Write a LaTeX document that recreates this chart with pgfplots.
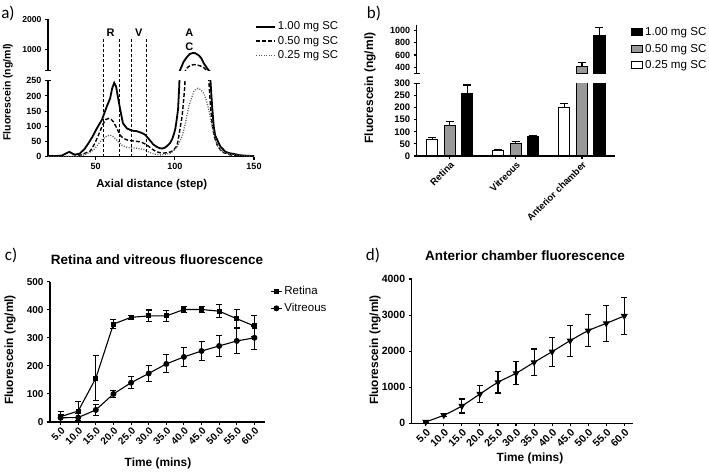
\documentclass[border=0pt]{standalone}
\usepackage{fontspec}
\setmainfont{Liberation Sans}
\newfontfamily\carlito{Carlito}
\usepackage{pgfplots}
\pgfplotsset{compat=1.18}

\newcommand{\fs}[1]{\fontsize{#1}{#1}\selectfont}
\newcommand{\panfont}{\fontsize{17}{19}\selectfont\carlito}

% GraphPad-like look
\pgfplotsset{
  gp/.style={
    scale only axis,
    axis x line*=bottom, axis y line*=left,
    tick align=outside,
    major tick length=3pt,
    axis line style={line width=1.1pt},
    every tick/.style={black, line width=1.1pt},
    /pgf/number format/assume math mode=true,
    /pgf/number format/1000 sep={},
    scaled y ticks=false,
    enlargelimits=false,
    anchor=south west,
  },
  errs/.style={
    error bars/y dir=both, error bars/y explicit,
    error bars/error bar style={line width=1.1pt, black},
    error bars/error mark options={rotate=90, mark size=3pt, line width=1.1pt, black},
  },
  barerr/.style={
    error bars/y dir=plus, error bars/y explicit,
    error bars/error bar style={line width=1.1pt, black},
    error bars/error mark options={rotate=90, mark size=4pt, line width=1.1pt, black},
  },
  bars/.style={ybar, bar width=11pt, bar shift=0pt, draw=black, line width=1.1pt, barerr},
}

% panel a curves
\pgfplotstableread{
x y
20 2
25 2
29 4
31 10
33.5 16
35.5 10
37 7
40 10
43 25
45.5 44
48 65
50.8 93
54 121
57.1 165
59.2 192
60.5 225
61.8 243
63 230
64 200
65.6 154
67.3 110
69.8 93
72 88
74 85
76 84
78.2 80
80 76
81.4 72
83 62
84.6 52
86.5 40
88.8 32
90.5 28
92 27
93.5 29
95.1 35
97 45
98.3 57
99.5 75
100.4 93
101.3 125
102.1 157
102.8 230
103.3 300
104.5 450
105.6 587
107.5 730
109.4 843
111.5 880
113 868
115.1 800
116.8 700
118.3 533
120 400
121.5 290
122.5 252
123.6 164
124.6 99
125.5 70
126.8 55
128.9 33
132 16
135 11
137.3 9
141 5
145.8 3
150 2
}\hi
\pgfplotstableread{
x y
20 0
35 0.5
38 2
41 6
44.5 14
46.6 18
49.7 45
51.8 71
55 110
56.5 122
58.2 126
60 122
61.3 115
63 98
64.5 82
66 68
67.7 60
70 55
71.9 53
75 51
78.2 49
80.5 44
82.5 38
84.5 30
86.6 22
88.5 16
90.9 13
93 12
95.1 13
97.5 16
99.3 22
100.5 30
101.5 38
102.5 66
103.5 98
104.6 132
105.5 180
106.3 230
106.8 300
107.8 380
108.8 425
110 462
112 490
114 478
116.2 445
118 400
119.4 333
120.8 290
121.5 250
122.5 170
123.5 110
125 65
127 35
130 15
135 6
140 3
150 1
}\mid
\pgfplotstableread{
x y
20 0
38 0
42.3 5
45.5 12
48.7 22
50.8 35
52.9 49
55 60
57.1 68
59.2 71
60.8 67
62.4 60
64.5 48
66.6 38
68.7 33
70.8 30
73.5 29
76.1 28
78.2 26
80.3 24
82.5 18
84.6 13
87.5 8
90.9 6
94 7
97.2 11
99.3 20
101.5 33
103 48
104.6 66
105.7 88
106.7 110
107.8 138
108.8 164
110.5 192
112 214
113.4 222
114.7 225
116.5 220
118.3 208
120 185
121.5 154
122.5 125
123.6 99
124.7 75
125.7 55
127.3 35
128.9 22
132 13
135.2 8
140 5
146 3
150 2
}\lo

\begin{document}
\begin{tikzpicture}
\path[use as bounding box] (0,0) rectangle (709pt,-471pt);

% ---------------- a) lower
\begin{axis}[gp, name=al, at={(48pt,-156.7pt)}, width=206pt, height=76pt,
  tick label style={font=\fs{9}\bfseries},
  xmin=20, xmax=150, ymin=0, ymax=250,
  xtick={50,100,150}, ytick={0,50,...,250}]
\addplot[black, line width=1.8pt] table {\hi};
\addplot[black, line width=1.4pt, dash pattern=on 4pt off 2pt] table {\mid};
\addplot[black!65, line width=1.3pt, dash pattern=on 1pt off 1.5pt] table {\lo};
\end{axis}
% a) upper
\begin{axis}[gp, name=au, at={(48pt,-70.3pt)}, width=206pt, height=51pt,
  tick label style={font=\fs{8.6}\bfseries},
  xmin=20, xmax=150, ymin=300, ymax=2000,
  axis x line=none, ytick={1000,2000},
  legend style={at={(axis description cs:0.99,1.03)}, anchor=north west,
    draw=none, fill=none, font=\fs{11.4}, row sep=1pt},
  legend cell align=left,
  legend image code/.code={\draw[#1] (0pt,0pt) -- (19pt,0pt);}]
\addplot[black, line width=1.8pt] table {\hi};
\addlegendentry{1.00 mg SC}
\addplot[black, line width=1.4pt, dash pattern=on 4pt off 2pt] table {\mid};
\addlegendentry{0.50 mg SC}
\addplot[black!65, line width=1.3pt, dash pattern=on 1pt off 1.5pt] table {\lo};
\addlegendentry{0.25 mg SC}
\end{axis}
% a) region markers
\begin{axis}[gp, hide axis, clip=false, at={(48pt,-156.7pt)}, width=206pt, height=76pt,
  xmin=20, xmax=150, ymin=0, ymax=250]
\addplot[black, line width=1pt, dash pattern=on 3pt off 2pt] coordinates {(55,0) (55,390)};
\addplot[black, line width=1pt, dash pattern=on 3pt off 2pt] coordinates {(65,0) (65,390)};
\addplot[black, line width=1pt, dash pattern=on 3pt off 2pt] coordinates {(73,0) (73,390)};
\addplot[black, line width=1pt, dash pattern=on 3pt off 2pt] coordinates {(82,0) (82,390)};
\node[font=\fs{11}\bfseries] at (axis cs:59.5,407) {R};
\node[font=\fs{11}\bfseries] at (axis cs:77.3,407) {V};
\node[font=\fs{11}\bfseries] at (axis cs:109.2,407) {A};
\node[font=\fs{11}\bfseries] at (axis cs:109.2,361) {C};
\end{axis}
\draw[line width=1.1pt] (au.south west) ++(-3pt,0) -- ++(6pt,0);
\draw[line width=1.1pt] (al.north west) ++(-3pt,0) -- ++(6pt,0);

% ---------------- b) lower (bars placed at group centre -0.265, 0, +0.265)
\begin{axis}[gp, name=bl, at={(416.7pt,-156pt)}, width=198.3pt, height=72.7pt,
  tick label style={font=\fs{9.5}\bfseries},
  xmin=-0.5, xmax=2.5, ymin=0, ymax=300,
  xtick={0,1,2}, xticklabels={Retina,Vitreous,Anterior chamber},
  x tick label style={rotate=45, anchor=north east, inner sep=1pt},
  ytick={0,50,...,300}]
\addplot[bars, fill=white]
  coordinates {(-0.265,68) +- (0,8) (0.735,21) +- (0,5) (1.735,201) +- (0,14)};
\addplot[bars, fill=black!40]
  coordinates {(0,127) +- (0,17) (1,50) +- (0,8) (2,412) +- (0,70)};
\addplot[bars, fill=black]
  coordinates {(0.265,257) +- (0,36) (1.265,80) +- (0,6) (2.265,918) +- (0,138)};
\end{axis}
% b) upper
\begin{axis}[gp, name=bu, at={(416.7pt,-73.3pt)}, width=198.3pt, height=48.7pt,
  tick label style={font=\fs{9}\bfseries},
  xmin=-0.5, xmax=2.5, ymin=300, ymax=1100,
  axis x line=none, ytick={400,600,800,1000},
  legend style={at={(axis description cs:1.065,1.03)}, anchor=north west,
    draw=none, fill=none, font=\fs{11.6}, row sep=3pt},
  legend cell align=left]
\addlegendimage{legend image code/.code={\draw[fill=black, draw=black, line width=1.1pt] (0pt,-3.5pt) rectangle (11pt,3.5pt);}}
\addlegendentry{1.00 mg SC}
\addlegendimage{legend image code/.code={\draw[fill=black!40, draw=black, line width=1.1pt] (0pt,-3.5pt) rectangle (11pt,3.5pt);}}
\addlegendentry{0.50 mg SC}
\addlegendimage{legend image code/.code={\draw[fill=white, draw=black, line width=1.1pt] (0pt,-3.5pt) rectangle (11pt,3.5pt);}}
\addlegendentry{0.25 mg SC}
\addplot[bars, fill=black!40, forget plot] coordinates {(2,412) +- (0,70)};
\addplot[bars, fill=black, forget plot] coordinates {(2.265,918) +- (0,138)};
\end{axis}
\draw[line width=1.1pt] (bu.south west) ++(-3pt,0) -- ++(6pt,0);
\draw[line width=1.1pt] (bl.north west) ++(-3pt,0) -- ++(6pt,0);

% ---------------- c)
\begin{axis}[gp, at={(50pt,-422pt)}, width=215pt, height=140.3pt,
  tick label style={font=\fs{10}\bfseries},
  xmin=2, xmax=63, ymin=0, ymax=500,
  xtick={5,10,...,60},
  xticklabels={5.0,10.0,15.0,20.0,25.0,30.0,35.0,40.0,45.0,50.0,55.0,60.0},
  x tick label style={rotate=45, anchor=north east, inner sep=1pt},
  ytick={0,100,...,500},
  legend style={at={(axis description cs:1.01,0.995)}, anchor=north west,
    draw=none, fill=none, font=\fs{11.5}, row sep=3pt},
  legend cell align=left,
  legend image code/.code={\draw[#1, mark repeat=2, mark phase=2] plot coordinates {(0pt,0pt) (5.5pt,0pt) (11pt,0pt)};}]
\addplot[black, line width=1.1pt, mark=square*, mark size=2pt, errs] coordinates {
  (5,19) +- (0,18) (10,39) +- (0,35) (15,156) +- (0,80) (20,349) +- (0,15)
  (25,373) +- (0,8) (30,378) +- (0,21) (35,378) +- (0,20) (40,401) +- (0,10)
  (45,401) +- (0,12) (50,395) +- (0,23) (55,368) +- (0,33) (60,342) +- (0,36)};
\addlegendentry{Retina}
\addplot[black, line width=1.1pt, mark=*, mark size=2.4pt, errs] coordinates {
  (5,15) +- (0,12) (10,16) +- (0,14) (15,43) +- (0,19) (20,100) +- (0,12)
  (25,140) +- (0,22) (30,173) +- (0,28) (35,207) +- (0,32) (40,232) +- (0,34)
  (45,253) +- (0,34) (50,271) +- (0,37) (55,289) +- (0,45) (60,300) +- (0,42)};
\addlegendentry{Vitreous}
\end{axis}

% ---------------- d)
\begin{axis}[gp, at={(411.7pt,-423.3pt)}, width=221.6pt, height=144.3pt,
  tick label style={font=\fs{10.5}\bfseries},
  xmin=1.1, xmax=62.5, ymin=0, ymax=4000,
  xtick={5,10,...,60},
  xticklabels={5.0,10.0,15.0,20.0,25.0,30.0,35.0,40.0,45.0,50.0,55.0,60.0},
  x tick label style={rotate=45, anchor=north east, inner sep=1pt},
  ytick={0,1000,...,4000}]
\addplot[black, line width=1.1pt, smooth, mark=triangle*, mark size=3pt,
  mark options={rotate=180}, errs] coordinates {
  (5,40) +- (0,30) (10,225) +- (0,45) (15,480) +- (0,195) (20,813) +- (0,230)
  (25,1136) +- (0,295) (30,1386) +- (0,315) (35,1690) +- (0,370) (40,1986) +- (0,400)
  (45,2291) +- (0,430) (50,2568) +- (0,450) (55,2771) +- (0,500) (60,2975) +- (0,510)};
\end{axis}

% ---------------- texts
\node[font=\panfont] at (8pt,-13pt) {a)};
\node[font=\panfont] at (374pt,-13pt) {b)};
\node[font=\panfont] at (11pt,-255pt) {c)};
\node[font=\panfont] at (373pt,-255pt) {d)};
\node[font=\fs{10.5}\bfseries, rotate=90] at (8pt,-92pt) {Fluorescein (ng/ml)};
\node[font=\fs{11.4}\bfseries] at (151.7pt,-184.3pt) {Axial distance (step)};
\node[font=\fs{12}\bfseries, rotate=90] at (370pt,-88pt) {Fluorescein (ng/ml)};
\node[font=\fs{13.5}\bfseries] at (157pt,-260pt) {Retina and vitreous fluorescence};
\node[font=\fs{11.9}\bfseries, rotate=90] at (10pt,-350pt) {Fluorescein (ng/ml)};
\node[font=\fs{11.9}\bfseries] at (158pt,-463pt) {Time (mins)};
\node[font=\fs{13.5}\bfseries] at (525pt,-256pt) {Anterior chamber fluorescence};
\node[font=\fs{11.9}\bfseries, rotate=90] at (375pt,-350pt) {Fluorescein (ng/ml)};
\node[font=\fs{11.9}\bfseries] at (530pt,-458pt) {Time (mins)};
\end{tikzpicture}
\end{document}
